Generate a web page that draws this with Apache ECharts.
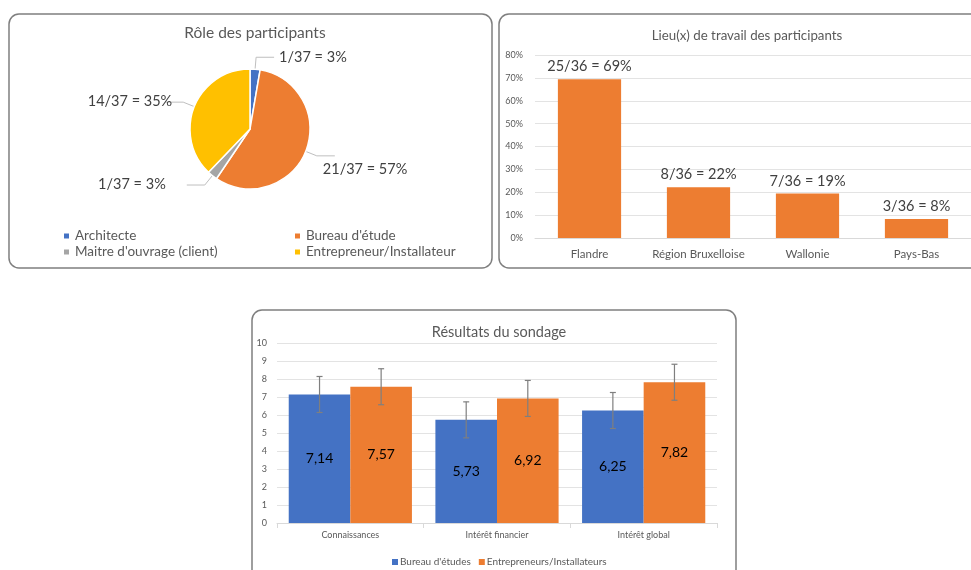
<!DOCTYPE html>
<html>
<head>
<meta charset="utf-8">
<script src="https://cdn.jsdelivr.net/npm/echarts@6/dist/echarts.min.js"></script>
<style>
html,body{margin:0;padding:0;background:#fff;}
#chart{width:971px;height:570px;}
</style>
</head>
<body>
<div id="chart"></div>
<script>
// ---- Pie: Rôle des participants ----
const roleNames = ['Architecte', "Bureau d'étude", "Maitre d'ouvrage (client)", 'Entrepreneur/Installateur'];
const roleCounts = [1, 21, 1, 14];
const roleLabels = ['1/37 = 3%', '21/37 = 57%', '1/37 = 3%', '14/37 = 35%'];
const roleColors = ['#4472C4', '#ED7D31', '#A5A5A5', '#FFC000'];

// ---- Bar: Lieu(x) de travail ----
const placeCategories = ['Flandre', 'Région Bruxelloise', 'Wallonie', 'Pays-Bas'];
const placeValues = [69.4, 22.2, 19.4, 8.3];
const placeLabels = ['25/36 = 69%', '8/36 = 22%', '7/36 = 19%', '3/36 = 8%'];

// ---- Grouped bar: Résultats du sondage ----
const surveyCategories = ['Connaissances', 'Intérêt financier', 'Intérêt global'];
const bureauValues = [7.14, 5.73, 6.25];
const entrepValues = [7.57, 6.92, 7.82];
const bureauErrors = [1, 1, 1];
const entrepErrors = [1, 1, 1];

const FONT = 'Lato, "Open Sans", sans-serif';
const txt = '#404040';
const axisTxt = '#595959';
const gridCol = '#e3e3e3';
const CAT_GAP = 0.16;

function fmtComma(v){ return v.toFixed(2).replace('.', ','); }

function errorRender(side){
  return function(params, api){
    const ci = api.value(0), v = api.value(1), e = api.value(2);
    const c = api.coord([ci, v]);
    const catW = api.size([1, 0])[0];
    const barW = catW * (1 - CAT_GAP) / 2;
    const x = c[0] + side * barW / 2;
    const top = api.coord([ci, v + e])[1];
    const bot = api.coord([ci, v - e])[1];
    const cap = 3;
    const st = {stroke: '#7f7f7f', lineWidth: 1.2};
    return {type: 'group', children: [
      {type: 'line', shape: {x1: x, y1: top, x2: x, y2: bot}, style: st},
      {type: 'line', shape: {x1: x - cap, y1: top, x2: x + cap, y2: top}, style: st},
      {type: 'line', shape: {x1: x - cap, y1: bot, x2: x + cap, y2: bot}, style: st}
    ]};
  };
}

// label nudges for the pie (style, not data)
const pieLabelShift = [[0, 0], [-17, 13], [-16, -1], [12, -1]];

const chart = echarts.init(document.getElementById('chart'));
const option = {
  backgroundColor: '#fff',
  animation: false,
  textStyle: {fontFamily: FONT},
  graphic: [
    {type: 'rect', shape: {x: 9, y: 14, width: 483, height: 254, r: 10}, style: {fill: 'none', stroke: '#7f7f7f', lineWidth: 1.5}, z: -1},
    {type: 'rect', shape: {x: 499, y: 14, width: 490, height: 254, r: 10}, style: {fill: 'none', stroke: '#7f7f7f', lineWidth: 1.5}, z: -1},
    {type: 'rect', shape: {x: 252, y: 310, width: 484, height: 280, r: 10}, style: {fill: 'none', stroke: '#7f7f7f', lineWidth: 1.5}, z: -1}
  ],
  title: [
    {text: 'Rôle des participants', left: 250, top: 20, textAlign: 'center',
     textStyle: {fontFamily: FONT, fontSize: 15.5, fontWeight: 'normal', color: axisTxt}},
    {text: 'Lieu(x) de travail des participants', left: 742, top: 24, textAlign: 'center',
     textStyle: {fontFamily: FONT, fontSize: 13.3, fontWeight: 'normal', color: axisTxt}},
    {text: 'Résultats du sondage', left: 494, top: 320, textAlign: 'center',
     textStyle: {fontFamily: FONT, fontSize: 14.5, fontWeight: 'normal', color: axisTxt}}
  ],
  legend: [
    {data: [roleNames[0], roleNames[2]], orient: 'vertical', left: 57, top: 224, itemWidth: 7, itemHeight: 7, itemGap: 2, icon: 'rect',
     textStyle: {fontFamily: FONT, fontSize: 13.5, color: axisTxt}},
    {data: [roleNames[1], roleNames[3]], orient: 'vertical', left: 288, top: 224, itemWidth: 7, itemHeight: 7, itemGap: 2, icon: 'rect',
     textStyle: {fontFamily: FONT, fontSize: 13.5, color: axisTxt}},
    {data: ["Bureau d'études", 'Entrepreneurs/Installateurs'], left: 387, top: 552, itemWidth: 6, itemHeight: 6, itemGap: 8, icon: 'rect',
     textStyle: {fontFamily: FONT, fontSize: 10, color: axisTxt, padding: [0, 0, 0, -3]}}
  ],
  grid: [
    {left: 535, right: 0, top: 55, bottom: 332, containLabel: false},
    {left: 277, width: 440, top: 343, bottom: 47, containLabel: false}
  ],
  xAxis: [
    {type: 'category', gridIndex: 0, data: placeCategories,
     axisLine: {lineStyle: {color: '#d9d9d9'}}, axisTick: {show: false},
     axisLabel: {interval: 0, fontFamily: FONT, fontSize: 11.5, color: axisTxt, margin: 10}},
    {type: 'category', gridIndex: 1, data: surveyCategories,
     axisLine: {lineStyle: {color: '#d9d9d9'}}, axisTick: {show: true, lineStyle: {color: '#d9d9d9'}},
     axisLabel: {interval: 0, fontFamily: FONT, fontSize: 9, color: axisTxt, margin: 8}}
  ],
  yAxis: [
    {type: 'value', gridIndex: 0, min: 0, max: 80, interval: 10,
     axisLabel: {formatter: '{value}%', fontFamily: FONT, fontSize: 9, color: axisTxt, margin: 12},
     axisLine: {show: false}, axisTick: {show: false},
     splitLine: {lineStyle: {color: gridCol}}},
    {type: 'value', gridIndex: 1, min: 0, max: 10, interval: 1,
     axisLabel: {fontFamily: FONT, fontSize: 9, color: axisTxt, margin: 10},
     axisLine: {show: false}, axisTick: {show: false},
     splitLine: {lineStyle: {color: gridCol}}}
  ],
  series: [
    {type: 'pie', name: 'Rôle', center: [250, 129], radius: 60, startAngle: 90, clockwise: true,
     data: roleNames.map((n, i) => ({name: n, value: roleCounts[i], itemStyle: {color: roleColors[i]}})),
     itemStyle: {borderColor: '#fff', borderWidth: 1.5},
     label: {formatter: p => roleLabels[p.dataIndex], fontFamily: FONT, fontSize: 14.5, color: txt},
     labelLine: {length: 12, length2: 18, lineStyle: {color: '#bfbfbf', width: 1}},
     labelLayout: p => ({dx: pieLabelShift[p.dataIndex][0], dy: pieLabelShift[p.dataIndex][1]})},
    {type: 'bar', xAxisIndex: 0, yAxisIndex: 0, data: placeValues, barCategoryGap: '42%',
     itemStyle: {color: '#ED7D31'},
     label: {show: true, position: 'top', formatter: p => placeLabels[p.dataIndex], fontFamily: FONT, fontSize: 14.5, color: txt, distance: 5}},
    {type: 'bar', name: "Bureau d'études", xAxisIndex: 1, yAxisIndex: 1, data: bureauValues,
     barGap: '0%', barCategoryGap: (CAT_GAP * 100) + '%', itemStyle: {color: '#4472C4'},
     label: {show: true, position: 'inside', formatter: p => fmtComma(p.value), fontFamily: FONT, fontSize: 14, color: '#000'}},
    {type: 'bar', name: 'Entrepreneurs/Installateurs', xAxisIndex: 1, yAxisIndex: 1, data: entrepValues,
     barGap: '0%', barCategoryGap: (CAT_GAP * 100) + '%', itemStyle: {color: '#ED7D31'},
     label: {show: true, position: 'inside', formatter: p => fmtComma(p.value), fontFamily: FONT, fontSize: 14, color: '#000'}},
    {type: 'custom', name: 'errB', xAxisIndex: 1, yAxisIndex: 1, renderItem: errorRender(-1), z: 5,
     encode: {x: 0, y: 1}, data: bureauValues.map((v, i) => [i, v, bureauErrors[i]])},
    {type: 'custom', name: 'errE', xAxisIndex: 1, yAxisIndex: 1, renderItem: errorRender(1), z: 5,
     encode: {x: 0, y: 1}, data: entrepValues.map((v, i) => [i, v, entrepErrors[i]])}
  ]
};
chart.setOption(option);
</script>
</body>
</html>
